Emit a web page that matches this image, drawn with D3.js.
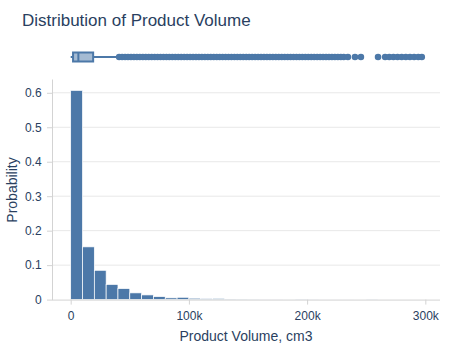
<!DOCTYPE html>
<html><head><meta charset="utf-8">
<script src="https://cdn.jsdelivr.net/npm/d3@7"></script>
<style>body{margin:0;background:#fff}svg{display:block}text{font-family:"Liberation Sans",Arial,sans-serif;fill:#2a3f5f}</style>
</head><body>
<script>
// Histogram bins (start of bin, 10k wide) and probabilities
const binStarts = [0,10000,20000,30000,40000,50000,60000,70000,80000,90000,100000,110000,120000,130000,140000,150000,160000,170000,180000,190000,200000,210000,220000,230000,240000,250000,260000,270000,280000,290000];
const binProb   = [0.607,0.153,0.085,0.044,0.032,0.0195,0.0136,0.0087,0.005,0.0067,0.004,0.003,0.0035,0.0012,0.0009,0.0006,0.0004,0.0004,0.0003,0.0008,0.0005,0.0002,0.0002,0.0002,0.0001,0.0006,0.0001,0.0001,0.0001,0.0001];
const binWidth = 10000;
// Box plot summary
const boxStats = {lowerFence: 0, q1: 2000, median: 6500, q3: 19000, upperFence: 39500};
// Outliers
const outliers = [41000,43500,46000,48500,51000,53500,56000,58500,61000,63500,66000,68500,71000,73500,76000,78500,81000,83500,86000,88500,91000,93500,96000,98500,101000,103500,106000,108500,111000,113500,116000,118500,121000,123500,126000,128500,131000,133500,136000,138500,141000,143500,146000,148500,151000,153500,156000,158500,161000,163500,166000,168500,171000,173500,176000,178500,181000,183500,186000,188500,191000,193500,196000,198500,201000,203500,206000,208500,211000,213500,216000,218500,221000,223500,226000,228500,231000,234500,240500,245500,260000,266000,269500,273000,276500,280000,283500,287000,290500,294000,297000];
const xTicks = [0,100000,200000,300000];
const yTicks = [0,0.1,0.2,0.3,0.4,0.5,0.6];

const W=450,H=350;
const svg=d3.select("body").append("svg").attr("width",W).attr("height",H);
const color="#4c78a8";
const x=d3.scaleLinear().domain([-15800,312400]).range([52,440]);
const y=d3.scaleLinear().domain([0,0.64]).range([299.6,79]);
const boxY=57;

// grid
svg.append("g").selectAll("line").data(yTicks.slice(1)).join("line")
  .attr("x1",52).attr("x2",440).attr("y1",d=>y(d)).attr("y2",d=>y(d))
  .attr("stroke","#e8e8e8").attr("stroke-width",1);

// bars
svg.append("g").selectAll("rect").data(binStarts).join("rect")
  .attr("x",(d)=>x(d)).attr("width",(d)=>x(d+binWidth)-x(d))
  .attr("y",(d,i)=>y(binProb[i])).attr("height",(d,i)=>y(0)-y(binProb[i]))
  .attr("fill",color).attr("stroke","#fff").attr("stroke-width",0.7);

// axes
const xAxis=svg.append("g").attr("transform",`translate(0,${y(0)})`)
  .call(d3.axisBottom(x).tickValues(xTicks).tickFormat(d=>d===0?"0":(d/1000)+"k").tickSize(5).tickSizeOuter(0));
const yAxis=svg.append("g").attr("transform",`translate(52,0)`)
  .call(d3.axisLeft(y).tickValues(yTicks).tickFormat(d=>d===0?"0":d3.format(".1f")(d)).tickSize(5).tickSizeOuter(0));
[xAxis,yAxis].forEach(a=>{
  a.select(".domain").attr("stroke","#d3d3d3");
  a.selectAll(".tick line").attr("stroke","#d3d3d3");
  a.selectAll(".tick text").attr("font-size",12).attr("fill","#2a3f5f").style("font-family",'"Liberation Sans",Arial,sans-serif');
});
xAxis.selectAll(".tick text").attr("dy","1.05em");
yAxis.selectAll(".tick text").attr("dx","-0.2em");
xAxis.select(".domain").attr("d",`M52,0.5H440`);

// box plot
const bp=svg.append("g");
bp.append("line").attr("x1",x(boxStats.lowerFence)).attr("x2",x(boxStats.q1)).attr("y1",boxY).attr("y2",boxY).attr("stroke",color).attr("stroke-width",2);
bp.append("line").attr("x1",x(boxStats.q3)).attr("x2",x(boxStats.upperFence)).attr("y1",boxY).attr("y2",boxY).attr("stroke",color).attr("stroke-width",2);
bp.append("rect").attr("x",x(boxStats.q1)).attr("width",x(boxStats.q3)-x(boxStats.q1)).attr("y",boxY-4.5).attr("height",9)
  .attr("fill","rgba(76,120,168,0.5)").attr("stroke",color).attr("stroke-width",2);
bp.append("line").attr("x1",x(boxStats.median)).attr("x2",x(boxStats.median)).attr("y1",boxY-4.5).attr("y2",boxY+4.5).attr("stroke",color).attr("stroke-width",2);
bp.append("g").selectAll("circle").data(outliers).join("circle")
  .attr("cx",d=>x(d)).attr("cy",boxY).attr("r",3.3).attr("fill",color);

// titles
svg.append("text").attr("x",22).attr("y",26).attr("font-size",17).text("Distribution of Product Volume");
svg.append("text").attr("x",(52+440)/2).attr("y",341).attr("text-anchor","middle").attr("font-size",14).text("Product Volume, cm3");
svg.append("text").attr("transform",`translate(17,190) rotate(-90)`).attr("text-anchor","middle").attr("font-size",14).text("Probability");
</script>
</body></html>
